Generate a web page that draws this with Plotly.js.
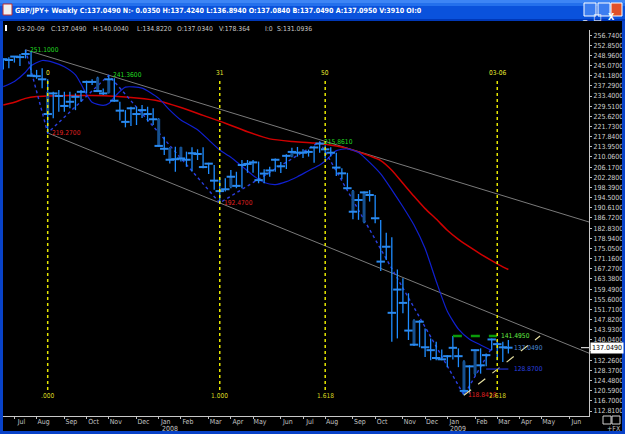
<!DOCTYPE html>
<html><head><meta charset="utf-8">
<script src="https://cdn.plot.ly/plotly-3.0.1.min.js"></script>
<style>html,body{margin:0;padding:0;background:#000;overflow:hidden}#chart{width:625px;height:434px}</style>
</head><body><div id="chart"></div>
<script>
// ---------- DATA ----------
const weeks = ['2007-06-22','2007-06-29','2007-07-06','2007-07-13','2007-07-20','2007-07-27','2007-08-03','2007-08-10','2007-08-17','2007-08-24','2007-08-31','2007-09-07','2007-09-14','2007-09-21','2007-09-28','2007-10-05','2007-10-12','2007-10-19','2007-10-26','2007-11-02','2007-11-09','2007-11-16','2007-11-23','2007-11-30','2007-12-07','2007-12-14','2007-12-21','2007-12-28',
'2008-01-04','2008-01-11','2008-01-18','2008-01-25','2008-02-01','2008-02-08','2008-02-15','2008-02-22','2008-02-29','2008-03-07','2008-03-14','2008-03-21','2008-03-28','2008-04-04','2008-04-11','2008-04-18','2008-04-25','2008-05-02','2008-05-09','2008-05-16','2008-05-23','2008-05-30','2008-06-06','2008-06-13','2008-06-20','2008-06-27','2008-07-04','2008-07-11','2008-07-18','2008-07-25','2008-08-01','2008-08-08','2008-08-15','2008-08-22','2008-08-29','2008-09-05','2008-09-12','2008-09-19','2008-09-26','2008-10-03','2008-10-10','2008-10-17','2008-10-24','2008-10-31','2008-11-07','2008-11-14','2008-11-21','2008-11-28','2008-12-05','2008-12-12','2008-12-19','2008-12-26',
'2009-01-02','2009-01-09','2009-01-16','2009-01-23','2009-01-30','2009-02-06','2009-02-13','2009-02-20','2009-02-27','2009-03-06','2009-03-13','2009-03-20'];

const high = [247.8,248.2,248.7,249.5,251.1,250.6,243.4,244.0,
239.8,235.0,235.7,235.0,235.0,234.4,235.7,239.3,239.8,240.8,
236.3,241.36,240.2,231.2,228.0,229.3,229.3,230.0,229.3,228.7,
224.9,217.8,213.8,214.0,214.0,212.1,213.8,213.0,213.8,207.9,
207.0,201.9,201.9,205.1,204.4,208.9,208.9,208.9,208.3,205.4,
206.3,209.5,208.1,211.1,213.6,213.9,213.0,212.9,214.2,215.861,
214.6,213.8,211.7,205.7,204.0,197.4,195.9,196.8,197.4,195.5,
185.9,181.1,179.3,167.0,163.6,157.9,147.9,147.6,144.4,140.6,
139.3,136.4,134.2,141.495,136.8,132.2,130.3,136.4,136.8,134.8,
140.6,140.0,139.3,140.004];

const low = [243.6,244.0,246.2,244.9,247.8,240.8,240.0,236.4,
219.27,224.9,227.4,227.4,228.7,228.0,231.2,234.4,237.6,235.0,
233.8,234.4,231.2,224.0,221.4,221.9,222.3,225.0,223.6,222.3,
214.0,210.8,207.6,204.4,208.3,206.3,204.5,208.9,205.7,203.5,
197.5,192.47,196.8,198.1,198.1,198.1,204.0,204.0,200.0,200.0,
202.5,204.4,203.9,205.5,210.0,210.2,209.7,210.2,207.9,211.7,
209.5,210.2,202.8,201.5,197.7,186.2,186.0,184.7,193.0,184.7,
166.4,170.6,139.3,140.6,150.2,140.0,137.7,137.2,133.5,132.2,
132.2,132.2,129.6,132.5,129.6,118.8418,119.4,126.4,127.1,129.9,
136.1,132.2,131.6,134.822];

const close = [247.5,247.2,248.5,248.3,249.5,241.2,241.0,239.8,
226.5,234.4,233.4,229.6,231.2,233.1,235.0,238.8,238.8,235.3,
234.4,239.8,231.6,227.8,223.5,228.7,226.5,228.0,226.5,224.5,
214.3,213.2,209.0,209.2,209.5,209.0,211.5,211.2,206.2,207.5,
201.0,197.0,197.7,202.5,199.0,207.0,207.4,208.0,201.2,203.7,
204.9,209.0,206.5,210.5,212.0,211.7,211.7,212.0,213.7,215.2,
213.0,211.7,206.0,203.8,198.1,189.1,193.6,196.5,195.5,186.6,
170.0,175.7,150.4,159.3,154.2,143.6,138.2,147.0,137.2,136.1,
133.1,132.6,133.8,137.0,133.8,120.5,129.9,136.1,130.3,134.2,
140.2,138.4,137.2,137.049];

const open = [247.5,247.2,248.5,248.3,249.5,241.2,241.0,239.8,
235.0,234.4,233.4,229.6,231.2,233.1,235.0,238.8,238.8,240.5,
234.4,234.6,231.6,227.8,223.5,228.7,226.5,228.0,226.5,224.5,
224.6,213.2,213.5,209.2,213.8,209.0,211.5,211.2,206.2,207.5,
201.0,197.0,197.7,198.5,199.0,207.0,207.4,208.0,201.2,203.7,
204.9,209.0,206.5,210.5,210.3,211.7,211.7,212.0,213.7,215.2,
213.0,211.7,206.0,203.8,198.1,197.0,193.6,185.2,195.5,186.6,
170.0,175.7,150.4,159.3,154.2,143.6,147.5,147.0,137.2,136.1,
133.1,132.6,133.8,137.0,133.8,131.8,129.9,127.0,130.3,134.2,
140.2,138.4,137.2,137.034];

// long moving average (red), read at selected weeks (index into weeks)
const redIdx = [0,2,4,6,8,12,16,20,24,28,32,36,40,44,48,52,56,60,62,64,66,68,70,72,74,76,78,80,82,84,86,88,90,91];
const redVal = [230.0,231.0,232.5,233.2,233.4,233.6,233.6,233.3,232.6,231.5,229.0,226.0,223.0,219.7,217.0,216.0,215.4,214.3,213.3,212.0,210.5,208.7,205.0,200.0,195.0,190.3,186.3,182.0,178.5,175.6,172.9,170.4,168.0,167.0];
// shorter moving average (blue)
const blueIdx = [0,2,4,5,7,9,11,13,14,15,16,18,19,20,22,25,28,30,32,35,37,39,41,43,45,47,49,51,53,55,57,58,60,62,64,66,68,70,72,74,76,78,80,82,84,86,88];
const blueVal = [237.0,239.0,242.5,245.0,247.0,246.3,244.6,241.5,238.0,234.0,231.0,229.8,230.5,233.0,236.8,236.4,232.5,228.0,224.2,220.5,216.6,212.7,210.0,206.5,203.0,200.3,199.5,200.6,202.5,204.8,207.0,208.5,212.5,213.2,211.8,208.0,203.6,197.5,191.0,184.0,175.0,162.5,151.0,144.2,140.3,138.1,136.0];
// zig-zag pivots
const zigIdx = [4,8,19,39,57,83,88];
const zigVal = [251.1,219.27,241.36,192.47,215.861,118.8418,137.0];
const pivotIdx = [4,8,19,39,57,83];
const pivotVal = [251.1,219.27,241.36,192.47,215.861,118.8418];
const pivotIsHigh = [true,false,true,false,true,false];
// trend lines: two anchor pivots each
const upperTL = {i0:4, p0:251.1, i1:19, p1:241.36};
const lowerTL = {i0:8, p0:219.27, i1:39, p1:192.47};
// fibonacci time zones
const fibIdx = [8,39,58,89];
const fibTop = ['0','31','50','03-06'];
const fibBottom = ['.000','1.000','1.618','2.618'];
// recent triangle
const resistIdx = [81,89]; const resistVal = 141.495;
const supportDates = ['2009-01-23','2009-04-29']; const supportVals = [118.8418,141.5];
const projIdx = [87,91]; const projVal = 128.87;
// axis (ticks sit on the first weekly bar of each month)
const monthDates = ['2007-07-06','2007-08-03','2007-09-07','2007-10-05','2007-11-02','2007-12-07','2008-01-04','2008-02-01','2008-03-07','2008-04-04','2008-05-02','2008-06-06','2008-07-04','2008-08-01','2008-09-05','2008-10-03','2008-11-07','2008-12-05','2009-01-02','2009-02-06','2009-03-06','2009-04-03','2009-05-01','2009-06-05'];
const monthLabels = ['Jul','Aug','Sep','Oct','Nov','Dec','Jan','Feb','Mar','Apr','May','Jun','Jul','Aug','Sep','Oct','Nov','Dec','Jan','Feb','Mar','Apr','May','Jun'];
const yearDates = ['2008-01-04','2009-01-02']; const yearLabels = ['2008','2009'];
const priceTick0 = 112.81, priceStep = 3.89;
const lastClose = 137.049;
const titleText = 'GBP/JPY+ Weekly C:137.0490 N:- 0.0350 H:137.4240 L:136.8940 O:137.0840 B:137.0490 A:137.0950 V:3910 OI:0';
const infoFields = ['03-20-09','C:137.0490','H:140.0040','L:134.8220','O:137.0340','V:178.364','I:0','S:131.0936'];

// ---------- FONT FITTING ----------
const cv = document.createElement('canvas').getContext('2d');
function has(f){ cv.font='20px monospace'; const a=cv.measureText('abcdefgh0123.:').width; cv.font='20px "'+f+'", monospace'; return cv.measureText('abcdefgh0123.:').width!==a; }
let NF = '"Liberation Sans", sans-serif';
for (const f of ['Liberation Sans Narrow','DejaVu Sans Condensed','Arial Narrow']) { if (has(f)) { NF = '"'+f+'", "Liberation Sans", sans-serif'; break; } }
function fit(text, target, bold){ cv.font=(bold?'bold ':'')+'20px '+NF; return 20*target/cv.measureText(text).width; }
const S_title = fit(titleText, 406, true);
const S_info = fit('C:137.0490', 35.5);
const S_axis = fit('256.7400', 30);
const S_piv = fit('251.1000', 28.5);
const S_month = fit('Sep', 11.8);
const S_fib = fit('2.618', 17);

// ---------- LAYOUT HELPERS ----------
const W=625,H=434,ML=3,MR=36,MT=30,MB=18;
const PW=W-ML-MR, PH=H-MT-MB;
const px = x => (x-ML)/PW;
const py = y => (H-MB-y)/PH;
const xRange = ['2007-06-21 15:00','2009-06-29 17:00'];

function pair(xs, a, b){ const X=[],Y=[]; xs.forEach((x,i)=>{X.push(x,x,null);Y.push(a[i],b[i],null);}); return {X,Y}; }
const wick = pair(weeks, low, high);
const bx=[],by=[];
weeks.forEach((d,i)=>{ if(Math.abs(open[i]-close[i])>0.3){bx.push(d,d,null);by.push(open[i],close[i],null);} });

function extend(tl){
  const t0=Date.parse(weeks[tl.i0]), t1=Date.parse(weeks[tl.i1]), te=Date.parse(xRange[1].replace(' ','T'));
  const pe = tl.p0 + (tl.p1-tl.p0)*(te-t0)/(t1-t0);
  return {x:[weeks[tl.i0], xRange[1]], y:[tl.p0, pe]};
}
const up = extend(upperTL), lo = extend(lowerTL);

const traces = [
 {x:up.x,y:up.y,mode:'lines',line:{color:'#7a7a7a',width:1}},
 {x:lo.x,y:lo.y,mode:'lines',line:{color:'#7a7a7a',width:1}},
 {x:redIdx.map(i=>weeks[i]),y:redVal,mode:'lines',line:{color:'#d00000',width:1.5,shape:'spline',smoothing:0.6}},
 {x:blueIdx.map(i=>weeks[i]),y:blueVal,mode:'lines',line:{color:'#1020d0',width:1.2,shape:'spline',smoothing:0.6}},
 {x:zigIdx.map(i=>weeks[i]),y:zigVal,mode:'lines',line:{color:'#2a3fe0',width:1.4,dash:'dot'}},
 {x:wick.X,y:wick.Y,mode:'lines',line:{color:'#1e8cff',width:1.3},connectgaps:false},
 {x:bx,y:by,mode:'lines',line:{color:'#16508f',width:3},connectgaps:false},
 {x:weeks,y:close,mode:'markers',marker:{symbol:'line-ew',size:6,line:{color:'#2a8af0',width:2}}},
 {x:resistIdx.map(i=>weeks[i]),y:[resistVal,resistVal],mode:'lines',line:{color:'#0a9a0a',width:2.5,dash:'dash'}},
 {x:supportDates,y:supportVals,mode:'lines',line:{color:'#e6dfa0',width:1.2,dash:'dash'}},
 {x:projIdx.map(i=>weeks[i]),y:[projVal,projVal],mode:'lines',line:{color:'#2030d0',width:1.2}}
];

const shapes = [];
function rect(x0,y0,x1,y1,fill,line){ shapes.push({type:'rect',xref:'paper',yref:'paper',x0:px(x0),x1:px(x1),y0:py(y1),y1:py(y0),fillcolor:fill,line:line||{width:0},layer:'above'}); }
// window chrome
rect(0,0,625,21,'#0a52dc');
rect(0,0,625,3,'#3d85f5');
rect(0,3,625,6,'#2470ec');
rect(0,19,625,21,'#0038b8');
rect(0,21,3,434,'#0842c8');
rect(622,21,625,434,'#0842c8');
rect(0,431,625,434,'#0842c8');
rect(3,4,12,15,'#f0f0f0',{color:'#c03030',width:1});
rect(584,3,596,16,'#3c7ef0',{color:'#ffffff',width:1});
rect(598,3,610,16,'#3c7ef0',{color:'#ffffff',width:1});
rect(611,3,622,16,'#e0502a',{color:'#ffffff',width:1});
rect(5,25,7,31,'#ffffff');
rect(603,416,611,424,'rgba(0,0,0,0)',{color:'#d0d0d0',width:1});
rect(612,416,620,424,'rgba(0,0,0,0)',{color:'#d0d0d0',width:1});
// fib time lines
fibIdx.forEach(i=>shapes.push({type:'line',xref:'x',yref:'paper',x0:weeks[i],x1:weeks[i],y0:py(390),y1:py(79),line:{color:'#e6e600',width:1.5,dash:'dot'},layer:'above'}));
// last price pointer
shapes.push({type:'line',xref:'paper',yref:'y',x0:px(581),x1:px(589),y0:lastClose,y1:lastClose,line:{color:'#ffffff',width:1},layer:'above'});

const ann = [];
pivotIdx.forEach((i,k)=>ann.push({x:weeks[i],y:pivotVal[k],xref:'x',yref:'y',text:pivotVal[k].toFixed(4),showarrow:false,xanchor:'left',yanchor:'middle',xshift:2,font:{family:NF,size:S_piv,color:pivotIsHigh[k]?'#22dd22':'#e02020'}}));
ann.push({x:weeks[resistIdx[1]],y:resistVal,xref:'x',yref:'y',text:resistVal.toFixed(4),showarrow:false,xanchor:'left',yanchor:'middle',xshift:2,font:{family:NF,size:S_piv,color:'#66ee44'}});
ann.push({x:weeks[91],y:lastClose,xref:'x',yref:'y',text:lastClose.toFixed(4),showarrow:false,xanchor:'left',yanchor:'middle',xshift:4,font:{family:NF,size:S_piv,color:'#4a8ad8'}});
ann.push({x:weeks[91],y:projVal,xref:'x',yref:'y',text:projVal.toFixed(4),showarrow:false,xanchor:'left',yanchor:'middle',xshift:4,font:{family:NF,size:S_piv,color:'#2a40e0'}});
fibIdx.forEach((i,k)=>{
  ann.push({x:weeks[i],y:py(73),xref:'x',yref:'paper',text:fibTop[k],showarrow:false,xanchor:'center',yanchor:'middle',font:{family:NF,size:S_fib,color:'#e8e830'}});
  ann.push({x:weeks[i],y:py(396),xref:'x',yref:'paper',text:fibBottom[k],showarrow:false,xanchor:'center',yanchor:'middle',font:{family:NF,size:S_fib,color:'#d8d820'}});
});
const infoX = [15,49,91,135,175,217,263,275];
infoFields.forEach((t,k)=>ann.push({x:px(infoX[k]),y:py(29),xref:'paper',yref:'paper',text:t,showarrow:false,xanchor:'left',yanchor:'middle',font:{family:NF,size:S_info,color:'#c8c8c8'}}));
yearDates.forEach((d,k)=>ann.push({x:d,y:py(429.5),xref:'x',yref:'paper',text:yearLabels[k],showarrow:false,xanchor:'left',yanchor:'middle',xshift:1,font:{family:NF,size:S_month,color:'#c0c0c0'}}));
ann.push({x:1,y:lastClose,xref:'paper',yref:'y',text:lastClose.toFixed(4),showarrow:false,xanchor:'left',yanchor:'middle',xshift:1,bgcolor:'#ffffff',borderpad:1,font:{family:NF,size:S_axis,color:'#000000'}});
ann.push({x:px(614),y:py(429),xref:'paper',yref:'paper',text:'+FX',showarrow:false,xanchor:'center',yanchor:'middle',font:{family:NF,size:7,color:'#c0c0c0'}});
ann.push({x:px(590),y:py(9),xref:'paper',yref:'paper',text:'_',showarrow:false,font:{family:NF,size:9,color:'#ffffff'}});
ann.push({x:px(616.5),y:py(9.5),xref:'paper',yref:'paper',text:'<b>X</b>',showarrow:false,font:{family:NF,size:9,color:'#ffffff'}});
ann.push({x:px(604),y:py(9.5),xref:'paper',yref:'paper',text:'□',showarrow:false,font:{family:'DejaVu Sans',size:9,color:'#ffffff'}});

const layout = {
  width:W,height:H,margin:{l:ML,r:MR,t:MT,b:MB,pad:0},
  paper_bgcolor:'#000000',plot_bgcolor:'#000000',showlegend:false,
  title:{text:'<b>'+titleText+'</b>',x:15/W,xref:'container',xanchor:'left',y:1-10.5/H,yref:'container',yanchor:'middle',font:{family:NF,size:S_title,color:'#ffffff'}},
  xaxis:{type:'date',range:xRange,tickmode:'array',tickvals:monthDates,ticktext:monthLabels,ticks:'outside',ticklen:2,tickcolor:'#c0c0c0',
         showline:true,linecolor:'#c8c8c8',linewidth:1,showgrid:false,zeroline:false,ticklabelshift:7,ticklabelstandoff:-3,
         tickfont:{family:NF,size:S_month,color:'#c0c0c0'},fixedrange:true},
  yaxis:{side:'right',range:[110.896,258.676],tick0:priceTick0,dtick:priceStep,tickformat:'.4f',ticks:'outside',ticklen:2,tickcolor:'#c0c0c0',
         showline:true,linecolor:'#c8c8c8',linewidth:1,showgrid:false,zeroline:false,
         tickfont:{family:NF,size:S_axis,color:'#d0d0d0'},fixedrange:true},
  shapes:shapes,annotations:ann
};
Plotly.newPlot('chart',traces,layout,{displayModeBar:false,staticPlot:true});
</script></body></html>
